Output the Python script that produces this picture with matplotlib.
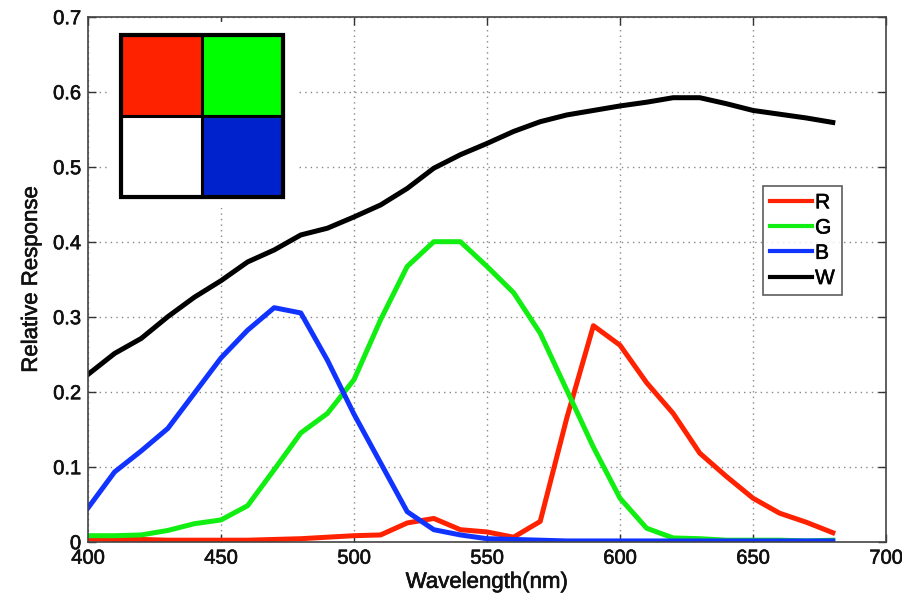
import matplotlib
matplotlib.use("Agg")
import matplotlib.pyplot as plt
from matplotlib.patches import Rectangle
import matplotlib.patheffects as pe

plt.rcParams['font.family'] = ['Liberation Sans', 'DejaVu Sans']

wavelength = [400, 410, 420, 430, 440, 450, 460, 470, 480, 490, 500, 510, 520, 530, 540,
              550, 560, 570, 580, 590, 600, 610, 620, 630, 640, 650, 660, 670, 680]
R = [0.004, 0.003, 0.003, 0.002, 0.002, 0.002, 0.002, 0.003, 0.004, 0.006, 0.008, 0.009,
     0.025, 0.031, 0.016, 0.013, 0.006, 0.027, 0.165, 0.288, 0.262, 0.212, 0.171, 0.118,
     0.087, 0.058, 0.038, 0.026, 0.012]
G = [0.008, 0.008, 0.009, 0.015, 0.024, 0.029, 0.048, 0.096, 0.145, 0.171, 0.216, 0.296,
     0.367, 0.400, 0.400, 0.367, 0.332, 0.278, 0.202, 0.126, 0.058, 0.018, 0.005, 0.004,
     0.002, 0.002, 0.002, 0.001, 0.002]
B = [0.045, 0.093, 0.121, 0.151, 0.198, 0.245, 0.282, 0.312, 0.305, 0.242, 0.170, 0.105,
     0.040, 0.016, 0.009, 0.004, 0.003, 0.002, 0.001, 0.001, 0.001, 0.001, 0.001, 0.001,
     0.001, 0.001, 0.001, 0.001, 0.001]
W = [0.223, 0.251, 0.271, 0.300, 0.326, 0.348, 0.373, 0.389, 0.409, 0.418, 0.433, 0.449,
     0.471, 0.498, 0.516, 0.531, 0.547, 0.560, 0.569, 0.575, 0.581, 0.586, 0.592, 0.592,
     0.584, 0.575, 0.570, 0.565, 0.559]

series_names = ['R', 'G', 'B', 'W']
series_colors = ['#ff2200', '#11ee11', '#1133ff', '#000000']
xticks = [400, 450, 500, 550, 600, 650, 700]
yticks = [0, 0.1, 0.2, 0.3, 0.4, 0.5, 0.6, 0.7]
ytick_labels = ['0', '0.1', '0.2', '0.3', '0.4', '0.5', '0.6', '0.7']

# inset mosaic: (row, col) -> colour, top row first
mosaic_colors = [['#ff2200', '#00ff00'], ['#ffffff', '#0022cc']]

W_PX, H_PX = 902, 603
fig = plt.figure(figsize=(W_PX / 100, H_PX / 100), dpi=100)

def fr(x0, y0, x1, y1):
    return [x0 / W_PX, 1 - y1 / H_PX, (x1 - x0) / W_PX, (y1 - y0) / H_PX]

ax = fig.add_axes(fr(88, 16.7, 886, 541.7))
ax.set_zorder(0)

for name, vals, col in zip(series_names, [R, G, B, W], series_colors):
    ax.plot(wavelength, vals, color=col, lw=3.6, label=name, solid_joinstyle='round')

ax.set_xlim(400, 700)
ax.set_ylim(0, 0.7)
ax.set_xticks(xticks)
ax.set_xticklabels([str(t) for t in xticks])
ax.set_yticks(yticks)
ax.set_yticklabels(ytick_labels)
ax.tick_params(direction='in', top=True, right=True, length=6, width=1,
               color='#333333', labelsize=14.5, pad=5)
ax.tick_params(axis='y', pad=5)
ax.grid(True, linestyle=(0, (1, 3)), color='#888888', lw=1)
for s in ax.spines.values():
    s.set_color('#444444')
    s.set_linewidth(1.2)

ax.set_xlabel('Wavelength(nm)', fontsize=16, labelpad=3)
ax.set_ylabel('Relative Response', fontsize=16, labelpad=8)

stroke = [pe.withStroke(linewidth=0.45, foreground='#111111')]
for t in ax.get_xticklabels() + ax.get_yticklabels() + [ax.xaxis.label, ax.yaxis.label]:
    t.set_color('#111111')
    t.set_path_effects(stroke)

leg = ax.legend(loc='upper left', bbox_to_anchor=(763 / W_PX, 1 - 186 / H_PX),
                bbox_transform=fig.transFigure, fontsize=15, frameon=True,
                fancybox=False, edgecolor='#333333', handlelength=2.0,
                handletextpad=0.15, labelspacing=0.3, borderpad=0.35,
                borderaxespad=0)
leg.get_frame().set_linewidth(1.2)
for lh in leg.get_lines():
    lh.set_linewidth(3)
for t in leg.get_texts():
    t.set_path_effects(stroke)

# white background behind inset mosaic
bg = Rectangle((110 / W_PX, 1 - 208 / H_PX), (297 - 110) / W_PX, (208 - 22) / H_PX,
               transform=fig.transFigure, facecolor='white', edgecolor='none', zorder=1)
fig.add_artist(bg)

inset = fig.add_axes(fr(120.7, 35, 283.3, 196.7))
inset.set_zorder(2)
inset.set_xlim(0, 2)
inset.set_ylim(0, 2)
inset.set_axis_off()
for r, row in enumerate(mosaic_colors):
    for c, col in enumerate(row):
        inset.add_patch(Rectangle((c, 1 - r), 1, 1, facecolor=col, edgecolor='black',
                                  lw=2.2, clip_on=False))
inset.add_patch(Rectangle((0, 0), 2, 2, facecolor='none', edgecolor='black',
                          lw=3, clip_on=False))

fig.savefig('out.png', dpi=100)
